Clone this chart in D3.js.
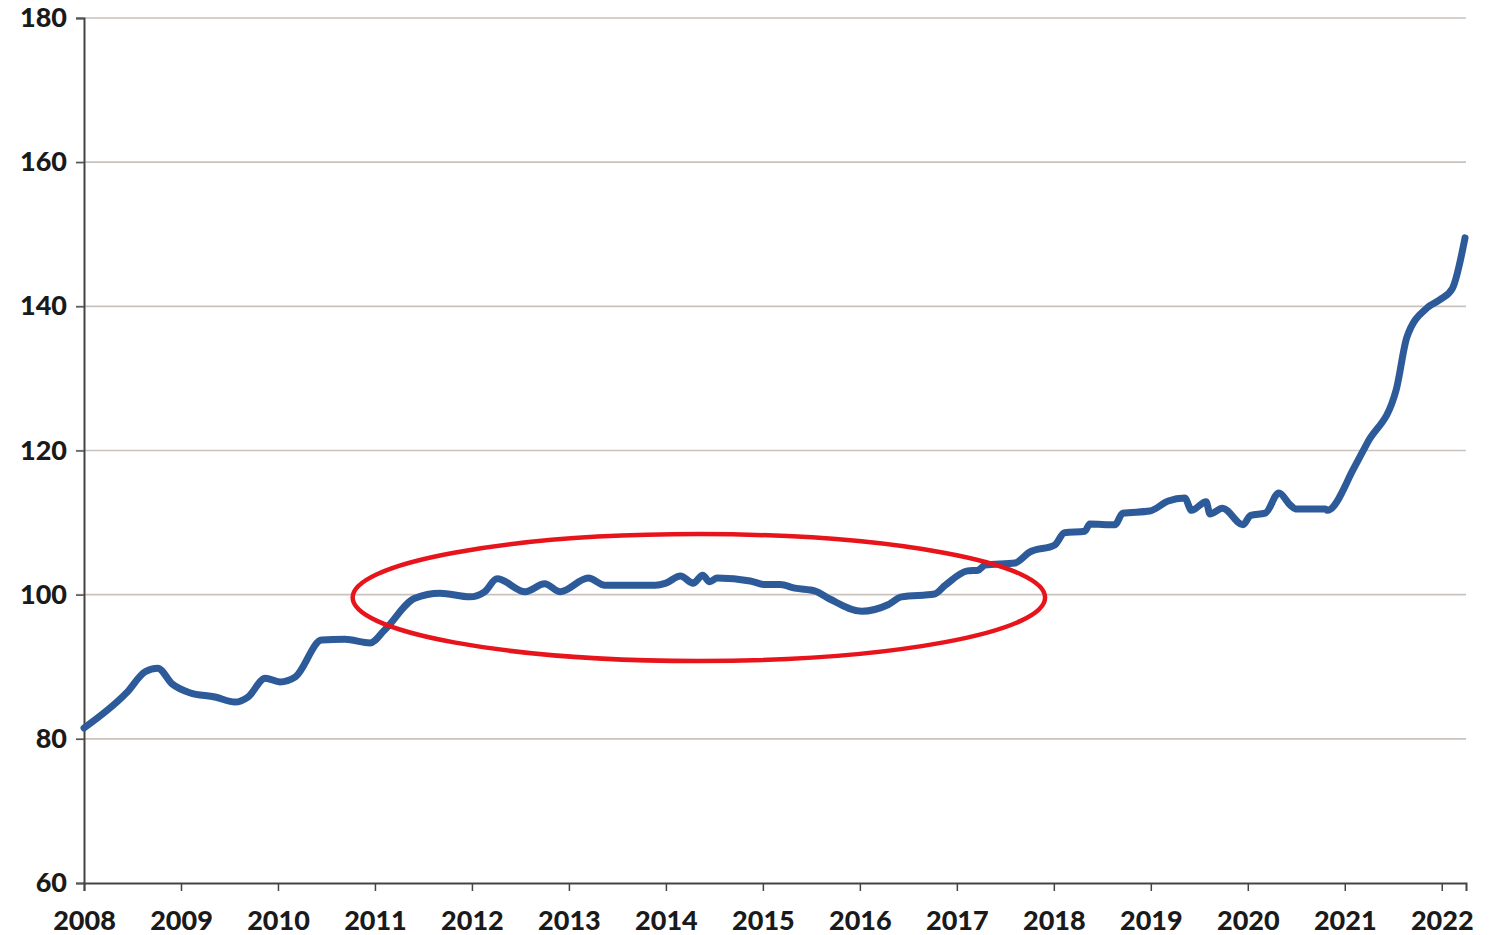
<!DOCTYPE html>
<html><head><meta charset="utf-8">
<script src="https://cdn.jsdelivr.net/npm/d3@7"></script>
<style>
html,body{margin:0;padding:0;background:#fff;}
svg{display:block;}
text{font-family:Lato,"Open Sans",sans-serif;font-weight:900;fill:#1a1a1a;}
</style></head>
<body>
<svg id="chart" width="1498" height="935"></svg>
<script>
// Data (decimal year, index value)
const years = [2008.00,2008.44,2008.63,2008.76,2008.91,2009.09,2009.35,2009.56,2009.69,2009.87,2010.02,2010.18,2010.45,2010.69,2010.95,2011.10,2011.41,2011.67,2011.98,2012.13,2012.26,2012.55,2012.75,2012.91,2013.20,2013.37,2013.89,2014.00,2014.15,2014.28,2014.38,2014.45,2014.53,2014.87,2015.02,2015.18,2015.33,2015.54,2015.69,2016.02,2016.29,2016.43,2016.77,2016.88,2017.11,2017.22,2017.29,2017.60,2017.75,2018.01,2018.11,2018.32,2018.37,2018.63,2018.71,2018.99,2019.18,2019.35,2019.42,2019.57,2019.61,2019.74,2019.95,2020.03,2020.18,2020.32,2020.44,2020.49,2020.80,2020.82,2021.10,2021.23,2021.53,2021.64,2021.85,2021.98,2022.11,2022.24];
const values = [81.5,86.4,89.3,89.8,87.6,86.4,85.8,85.1,85.8,88.4,87.9,88.6,93.7,93.8,93.3,95.1,99.5,100.2,99.7,100.4,102.2,100.4,101.5,100.4,102.3,101.3,101.3,101.6,102.6,101.6,102.7,101.8,102.3,101.9,101.4,101.4,100.9,100.5,99.4,97.7,98.6,99.7,100.1,101.3,103.3,103.4,104.1,104.4,105.9,106.9,108.6,108.8,109.8,109.7,111.3,111.6,113.0,113.4,111.7,112.9,111.2,112.0,109.7,111.0,111.3,114.1,112.4,111.9,111.9,111.7,117.7,121.0,128.4,135.7,139.8,140.9,142.5,149.5];
const xTicks = [2008,2009,2010,2011,2012,2013,2014,2015,2016,2017,2018,2019,2020,2021,2022];
const yTicks = [60,80,100,120,140,160,180];
// Highlight ellipse annotation (data coords)
const ellipseCenter = [2014.34, 99.6];
const ellipseRadii = [3.57, 8.8]; // years, index points

const svg = d3.select("#chart");
const x = d3.scaleLinear().domain([2008, 2022.25]).range([84, 1466]);
const y = d3.scaleLinear().domain([60, 180]).range([883, 18]);

// gridlines
svg.append("g").selectAll("line").data(yTicks.filter(d => d > 60)).join("line")
  .attr("x1", 76).attr("x2", 1466)
  .attr("y1", d => y(d)).attr("y2", d => y(d))
  .attr("stroke", "#c9c2bd").attr("stroke-width", 1.6);

// y axis
const yAxis = svg.append("g").attr("transform", "translate(84,0)")
  .call(d3.axisLeft(y).tickValues(yTicks).tickSize(8).tickPadding(9).tickFormat(d3.format("d")));
yAxis.select(".domain").attr("stroke", "#444").attr("stroke-width", 2);
yAxis.selectAll(".tick line").attr("stroke", "#555").attr("stroke-width", 1.5);
yAxis.selectAll("text").style("font-size", "27px").attr("fill", "#1a1a1a");

// x axis
const xAxis = svg.append("g").attr("transform", "translate(0,883)")
  .call(d3.axisBottom(x).tickValues(xTicks).tickSize(8).tickPadding(20).tickFormat(d3.format("d")));
xAxis.select(".domain").attr("stroke", "#444").attr("stroke-width", 2);
xAxis.selectAll(".tick line").attr("stroke", "#444").attr("stroke-width", 1.5);
xAxis.selectAll("text").style("font-size", "27px").attr("fill", "#1a1a1a");

// line
const pts = years.map((yr, i) => [yr, values[i]]);
svg.append("path").datum(pts)
  .attr("fill", "none").attr("stroke", "#2d5a98").attr("stroke-width", 7)
  .attr("stroke-linejoin", "round").attr("stroke-linecap", "round")
  .attr("d", d3.line().x(d => x(d[0])).y(d => y(d[1])).curve(d3.curveMonotoneX));

// ellipse
svg.append("ellipse")
  .attr("cx", x(ellipseCenter[0])).attr("cy", y(ellipseCenter[1]))
  .attr("rx", x(ellipseCenter[0] + ellipseRadii[0]) - x(ellipseCenter[0]))
  .attr("ry", y(ellipseCenter[1]) - y(ellipseCenter[1] + ellipseRadii[1]))
  .attr("fill", "none").attr("stroke", "#e8141b").attr("stroke-width", 4.5);
</script>
</body></html>
